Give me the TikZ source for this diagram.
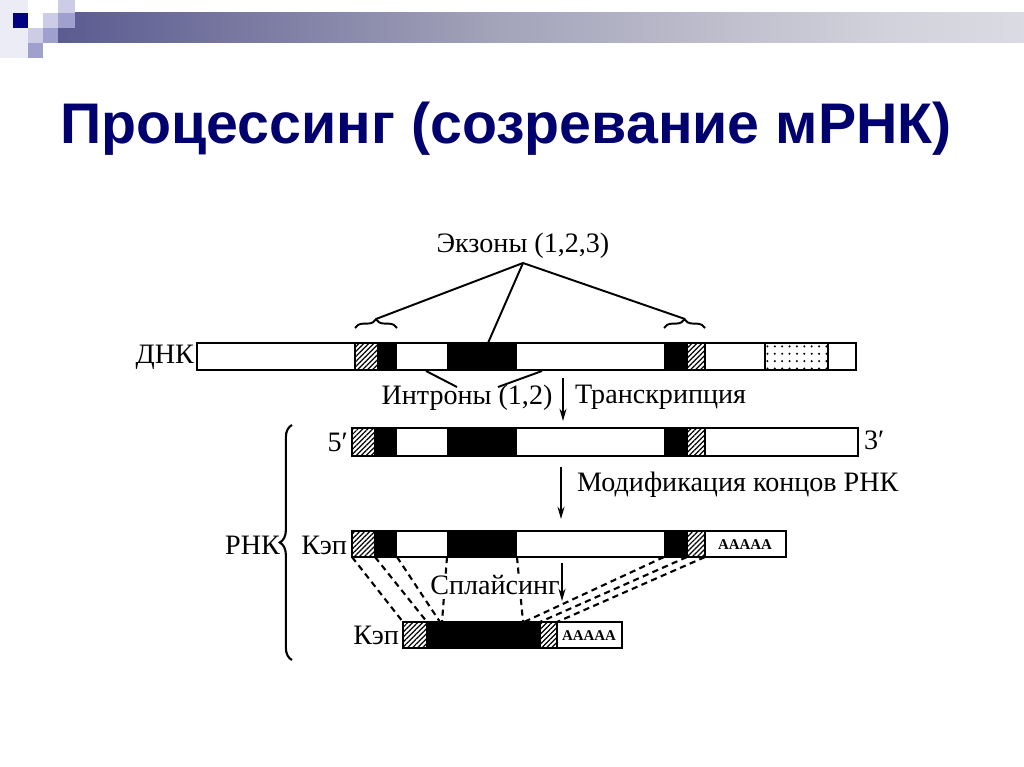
\documentclass[tikz,border=0pt]{standalone}
\usepackage{fontspec}
\setmainfont{Liberation Serif}
\newfontfamily\titlefont{Liberation Sans}
\usetikzlibrary{arrows.meta,patterns.meta,decorations.pathreplacing,positioning}

\definecolor{titleblue}{RGB}{0,0,110}
\definecolor{sqnavy}{RGB}{0,0,128}
\definecolor{sqfaint}{RGB}{236,236,246}
\definecolor{sqlight}{RGB}{204,204,230}
\definecolor{sqmid}{RGB}{160,160,206}
\definecolor{hdA}{RGB}{24,24,118}
\definecolor{hdA2}{RGB}{48,48,128}
\definecolor{hdB}{RGB}{100,100,150}
\definecolor{hdC}{RGB}{164,164,186}
\definecolor{hdD}{RGB}{210,210,220}
\definecolor{hdE}{RGB}{236,236,240}
\definecolor{hdF}{RGB}{252,252,252}
\pgfdeclarehorizontalshading{header}{100bp}{color(0bp)=(hdA); color(10bp)=(hdA2); color(28bp)=(hdB); color(48bp)=(hdC); color(68bp)=(hdD); color(89bp)=(hdE); color(100bp)=(hdF)}

\tikzset{
  bar/.style={draw=black, line width=1.3pt, fill=white},
  hatch/.style={draw=black, line width=1.3pt, pattern={Lines[angle=45,distance=2pt,line width=0.7pt]}},
  speckle/.style={draw=black, line width=1.3pt, pattern={Dots[distance=4.2pt,radius=0.65pt]}},
  lbl/.style={font=\fontsize{16}{18}\selectfont, inner sep=1pt},
  polya/.style={font=\fontsize{8.5}{9}\selectfont\bfseries, inner sep=0pt},
  link/.style={line width=1.1pt},
  arr/.style={line width=1pt, -{Stealth[length=7pt,width=4pt]}},
  splice/.style={line width=1.2pt, dash pattern=on 3.5pt off 2.5pt},
}

\begin{document}
\begin{tikzpicture}[x=0.02cm, y=-0.02cm]
\useasboundingbox (0,0) rectangle (1024,767);

% slide header
\fill[sqfaint] (0,0) rectangle (28,58);
\shade[shading=header] (58,13) rectangle (1024,43);
\fill[sqnavy] (13,13) rectangle (28,28);
\fill[sqlight] (43,13) rectangle (58,28);
\fill[sqmid] (43,28) rectangle (58,43);
\fill[sqlight] (28,28) rectangle (43,43);
\fill[sqmid] (28,43) rectangle (43,58);
\fill[sqlight] (58,0) rectangle (75,13);
\fill[sqmid] (58,13) rectangle (75,28);

\node[text=titleblue, font=\titlefont\fontsize{32.6}{38}\selectfont\bfseries] (title) at (506,129) {Процессинг (созревание мРНК)};

% DNA
\node[lbl, anchor=east] (dna) at (196,357) {ДНК};
\draw[bar] (197,343) rectangle (856,370);
\foreach \a/\b in {378/397,447/517,664/687} \fill (\a,343) rectangle (\b,370);
\foreach \a/\b in {355/378,687/705} \draw[hatch] (\a,343) rectangle (\b,370);
\draw[speckle] (765,343) rectangle (828,370);

% exons
\draw[link, decorate, decoration={brace,amplitude=5pt}] (355,328) -- (397,328);
\draw[link, decorate, decoration={brace,amplitude=5pt}] (664,328) -- (705,328);
\node[lbl] (exons) at (523,246) {Экзоны (1,2,3)};
\coordinate (apex) at (523,263);
\coordinate (ex1) at (376,319);
\coordinate (ex2) at (488,343);
\coordinate (ex3) at (685,319);
\foreach \c in {ex1,ex2,ex3} \draw[link] (apex) -- (\c);

% introns
\node[lbl] (introns) at (467,398) {Интроны (1,2)};
\coordinate (in1) at (426,371);
\coordinate (in1e) at (457,387);
\coordinate (in2) at (542,371);
\coordinate (in2e) at (498,387);
\draw[link] (in1) -- (in1e);
\draw[link] (in2) -- (in2e);

% transcription
\node[lbl, anchor=west] (transcr) at (573,397) {Транскрипция};
\coordinate (t1) at (563,378);
\coordinate (t2) at (563,421);
\draw[arr] (t1) -- (t2);

% pre-mRNA
\node[lbl, anchor=east] (five) at (350,442) {5′};
\draw[bar] (352,428) rectangle (858,456);
\foreach \a/\b in {375/397,447/517,664/687} \fill (\a,428) rectangle (\b,456);
\foreach \a/\b in {352/375,687/705} \draw[hatch] (\a,428) rectangle (\b,456);
\node[lbl, anchor=west] (three) at (862,440) {3′};

% RNA brace
\draw[line width=1.2pt, decorate, decoration={brace,amplitude=7pt}] (292,660) -- (292,425);
\node[lbl, anchor=east] (rna) at (282,545) {РНК};

% end modification
\coordinate (m1) at (561,467);
\coordinate (m2) at (561,519);
\draw[arr] (m1) -- (m2);
\node[lbl, anchor=west] (modif) at (575,485) {Модификация концов РНК};

% capped RNA
\node[lbl, anchor=east] (cap1) at (349,545) {Кэп};
\draw[bar] (352,531) rectangle (786,557);
\foreach \a/\b in {375/397,447/517,664/687} \fill (\a,531) rectangle (\b,557);
\foreach \a/\b in {352/375,687/705} \draw[hatch] (\a,531) rectangle (\b,557);
\node[polya] (polya1) at (745,545) {AAAAA};

% splicing
\foreach \a/\b in {352/403,375/427,397/440,447/442,517/523,664/524,687/540,705/557}
  \draw[splice] (\a,557) -- (\b,622);
\node[lbl, fill=white, inner sep=0pt] (splicing) at (495,585) {Сплайсинг};
\coordinate (s1) at (562,563);
\coordinate (s2) at (562,601);
\draw[arr] (s1) -- (s2);

% mature mRNA
\node[lbl, anchor=east] (cap2) at (401,635) {Кэп};
\draw[bar] (403,622) rectangle (622,648);
\fill (427,622) rectangle (540,648);
\foreach \a/\b in {403/427,540/557} \draw[hatch] (\a,622) rectangle (\b,648);
\node[polya] (polya2) at (589,636) {AAAAA};
\end{tikzpicture}
\end{document}
